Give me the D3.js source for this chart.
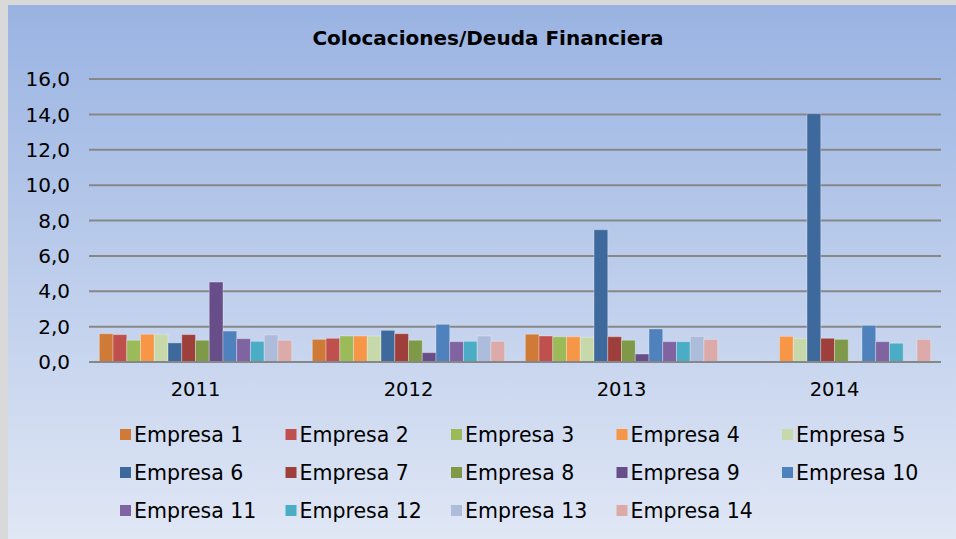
<!DOCTYPE html>
<html>
<head>
<meta charset="utf-8">
<script src="https://cdn.jsdelivr.net/npm/d3@7"></script>
<style>
  html, body { margin: 0; padding: 0; background: #d9d9d9; }
  svg { display: block; font-family: "DejaVu Sans", Verdana, sans-serif; }
</style>
</head>
<body>
<svg id="chart" width="956" height="539"></svg>
<script>
var years = ['2011', '2012', '2013', '2014'];
var empresas = ['Empresa 1', 'Empresa 2', 'Empresa 3', 'Empresa 4', 'Empresa 5',
                'Empresa 6', 'Empresa 7', 'Empresa 8', 'Empresa 9', 'Empresa 10',
                'Empresa 11', 'Empresa 12', 'Empresa 13', 'Empresa 14'];
// one row per empresa, values for 2011..2014 (null = no bar)
var values = [
    [1.60, 1.28, 1.57, null],
    [1.55, 1.34, 1.47, null],
    [1.23, 1.47, 1.43, null],
    [1.57, 1.47, 1.43, 1.45],
    [1.57, 1.47, 1.40, 1.34],
    [1.08, 1.79, 7.48, 14.04],
    [1.55, 1.60, 1.43, 1.34],
    [1.23, 1.23, 1.23, 1.28],
    [4.52, 0.53, 0.45, null],
    [1.75, 2.13, 1.87, 2.07],
    [1.32, 1.15, 1.15, 1.15],
    [1.17, 1.17, 1.15, 1.06],
    [1.53, 1.47, 1.45, null],
    [1.23, 1.17, 1.28, 1.28]
];
var colors = ['#cf7b37', '#c0504d', '#9bbb59', '#f79646', '#c7d9aa',
              '#3e699c', '#9e3f3c', '#7e9a48', '#674e88', '#4f81bd',
              '#8064a2', '#4bacc6', '#adbcda', '#dcaba9'];
var yTicks = [0, 2, 4, 6, 8, 10, 12, 14, 16];

var svg = d3.select('#chart');
var W = 956, H = 539;
var fmt = function(v) { return d3.format('.1f')(v).replace('.', ','); };

var defs = svg.append('defs');
var grad = defs.append('linearGradient').attr('id', 'bg')
    .attr('x1', 0).attr('y1', 0).attr('x2', 0).attr('y2', 1);
grad.append('stop').attr('offset', '0%').attr('stop-color', '#99b3e2');
grad.append('stop').attr('offset', '100%').attr('stop-color', '#e0e7f5');

svg.append('rect').attr('x', 0).attr('y', 0).attr('width', W).attr('height', H).attr('fill', '#d9d9d9');
svg.append('rect').attr('x', 8).attr('y', 5).attr('width', W - 8).attr('height', H - 5).attr('fill', 'url(#bg)');

svg.append('text')
    .attr('x', 488).attr('y', 45)
    .attr('text-anchor', 'middle')
    .style('font-size', '20px').style('font-weight', 'bold')
    .attr('fill', '#000')
    .text('Colocaciones/Deuda Financiera');

var plot = { left: 89, right: 941, top: 79, bottom: 362 };

var x0 = d3.scaleBand().domain(years).range([plot.left, plot.right]);
var barW = x0.bandwidth() / (empresas.length + 1.5);
var x1 = d3.scaleBand().domain(empresas)
    .range([barW * 0.75, barW * 0.75 + barW * empresas.length]);
var y = d3.scaleLinear().domain([0, 16]).range([plot.bottom, plot.top]);

// gridlines
svg.append('g').selectAll('line').data(yTicks).join('line')
    .attr('x1', plot.left).attr('x2', plot.right)
    .attr('y1', function(d) { return y(d); }).attr('y2', function(d) { return y(d); })
    .attr('stroke', '#878787').attr('stroke-width', 2);

// y labels
svg.append('g').selectAll('text').data(yTicks).join('text')
    .attr('x', 70).attr('y', function(d) { return y(d); })
    .attr('dy', '0.36em')
    .attr('text-anchor', 'end')
    .style('font-size', '20px').attr('fill', '#000')
    .text(fmt);

// bars
var groups = svg.append('g').selectAll('g').data(years).join('g')
    .attr('transform', function(d) { return 'translate(' + x0(d) + ',0)'; });
groups.selectAll('rect')
    .data(function(yr, yi) {
        return empresas.map(function(e, ei) { return { e: e, i: ei, v: values[ei][yi] }; })
                       .filter(function(d) { return d.v !== null; });
    })
    .join('rect')
    .attr('x', function(d) { return x1(d.e); })
    .attr('width', x1.bandwidth())
    .attr('y', function(d) { return y(d.v); })
    .attr('height', function(d) { return y(0) - y(d.v); })
    .attr('fill', function(d) { return colors[d.i]; })
    .attr('stroke', 'rgba(255,255,255,0.3)').attr('stroke-width', 1);

// zero axis line on top
svg.append('line')
    .attr('x1', plot.left).attr('x2', plot.right)
    .attr('y1', y(0)).attr('y2', y(0))
    .attr('stroke', '#878787').attr('stroke-width', 2);

// x labels
svg.append('g').selectAll('text').data(years).join('text')
    .attr('x', function(d) { return x0(d) + x0.bandwidth() / 2; })
    .attr('y', 396)
    .attr('text-anchor', 'middle')
    .style('font-size', '19.5px').attr('fill', '#000')
    .text(function(d) { return d; });

// legend
var legend = svg.append('g').selectAll('g').data(empresas).join('g')
    .attr('transform', function(d, i) {
        return 'translate(' + (120 + (i % 5) * 165.5) + ',' + (429 + Math.floor(i / 5) * 38) + ')';
    });
legend.append('rect').attr('width', 11).attr('height', 11)
    .attr('fill', function(d, i) { return colors[i]; });
legend.append('text')
    .attr('x', 14).attr('y', 12.5)
    .style('font-size', '20.5px').attr('fill', '#000')
    .text(function(d) { return d; });
</script>
</body>
</html>
